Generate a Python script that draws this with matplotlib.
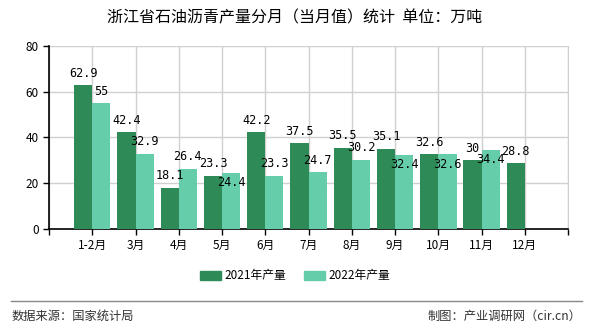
import numpy as np
import matplotlib
matplotlib.use("Agg")
import matplotlib.pyplot as plt
from matplotlib.lines import Line2D
from matplotlib.patches import Patch

plt.rcParams['font.family'] = ['Noto Sans CJK SC', 'DejaVu Sans']

# ============ DATA ============
months = ['1-2月', '3月', '4月', '5月', '6月', '7月', '8月', '9月', '10月', '11月', '12月']
prod_2021 = [62.9, 42.4, 18.1, 23.3, 42.2, 37.5, 35.5, 35.1, 32.6, 30, 28.8]
prod_2022 = [55, 32.9, 26.4, 24.4, 23.3, 24.7, 30.2, 32.4, 32.6, 34.4, None]
series_names = ['2021年产量', '2022年产量']

# label placement for 2022 series: +1 above the bar top, -1 below it
label_side_2022 = [1, 1, 1, -1, 1, 1, 1, -1, -1, -1, 1]

C21 = '#2E8B57'
C22 = '#66CDAA'

# ============ PLOT ============
fig = plt.figure(figsize=(5.9, 3.3), dpi=100)
ax = fig.add_axes([0.083, 0.306, 0.880, 0.555])

x = np.arange(len(months))
w = 0.42
v21 = np.array(prod_2021, dtype=float)
v22 = np.array([np.nan if v is None else v for v in prod_2022], dtype=float)

ax.bar(x - w / 2, v21, width=w, color=C21, zorder=3)
ax.bar(x + w / 2, np.nan_to_num(v22), width=w, color=C22, zorder=3)

lbl = dict(fontsize=8.5, family=['DejaVu Sans Mono'], ha='center', va='center', zorder=5)
for i, v in enumerate(v21):
    ax.text(x[i] - w / 2, v + 5.2, f'{v:g}', **lbl)
for i, v in enumerate(v22):
    if np.isnan(v):
        continue
    off = 5.2 if label_side_2022[i] > 0 else -4.2
    ax.text(x[i] + w / 2, v + off, f'{v:g}', **lbl)

ax.set_xlim(-1, 11)
ax.set_ylim(0, 80)
ax.set_yticks([0, 20, 40, 60, 80])
ax.set_xticks(np.arange(-1, 12))
ax.set_xticklabels([''] + months + [''])
ax.tick_params(axis='both', labelsize=8.5, length=4, width=1, color='black')
ax.grid(True, color='#d0d0d0', linewidth=1, zorder=0)
ax.spines['top'].set_visible(False)
ax.spines['right'].set_color('#d0d0d0')
for s in ['left', 'bottom']:
    ax.spines[s].set_linewidth(1.2)

fig.text(0.5, 0.945, '浙江省石油沥青产量分月（当月值）统计  单位：万吨',
         ha='center', va='center', fontsize=11.5)

handles = [Patch(color=C21), Patch(color=C22)]
fig.legend(handles, series_names, loc='center', bbox_to_anchor=(0.5, 0.164),
           ncol=2, frameon=False, fontsize=8.5, handlelength=1.8,
           handleheight=0.8, columnspacing=1.5, handletextpad=0.3)

fig.add_artist(Line2D([0.018, 0.986], [0.087, 0.087], transform=fig.transFigure,
                      color='#888888', linewidth=1))
fig.text(0.02, 0.042, '数据来源：国家统计局', ha='left', va='center', fontsize=8.8, color='#333333')
fig.text(0.986, 0.042, '制图：产业调研网（cir.cn）', ha='right', va='center', fontsize=8.8, color='#333333')

fig.savefig('out.png', dpi=100, facecolor='white')
